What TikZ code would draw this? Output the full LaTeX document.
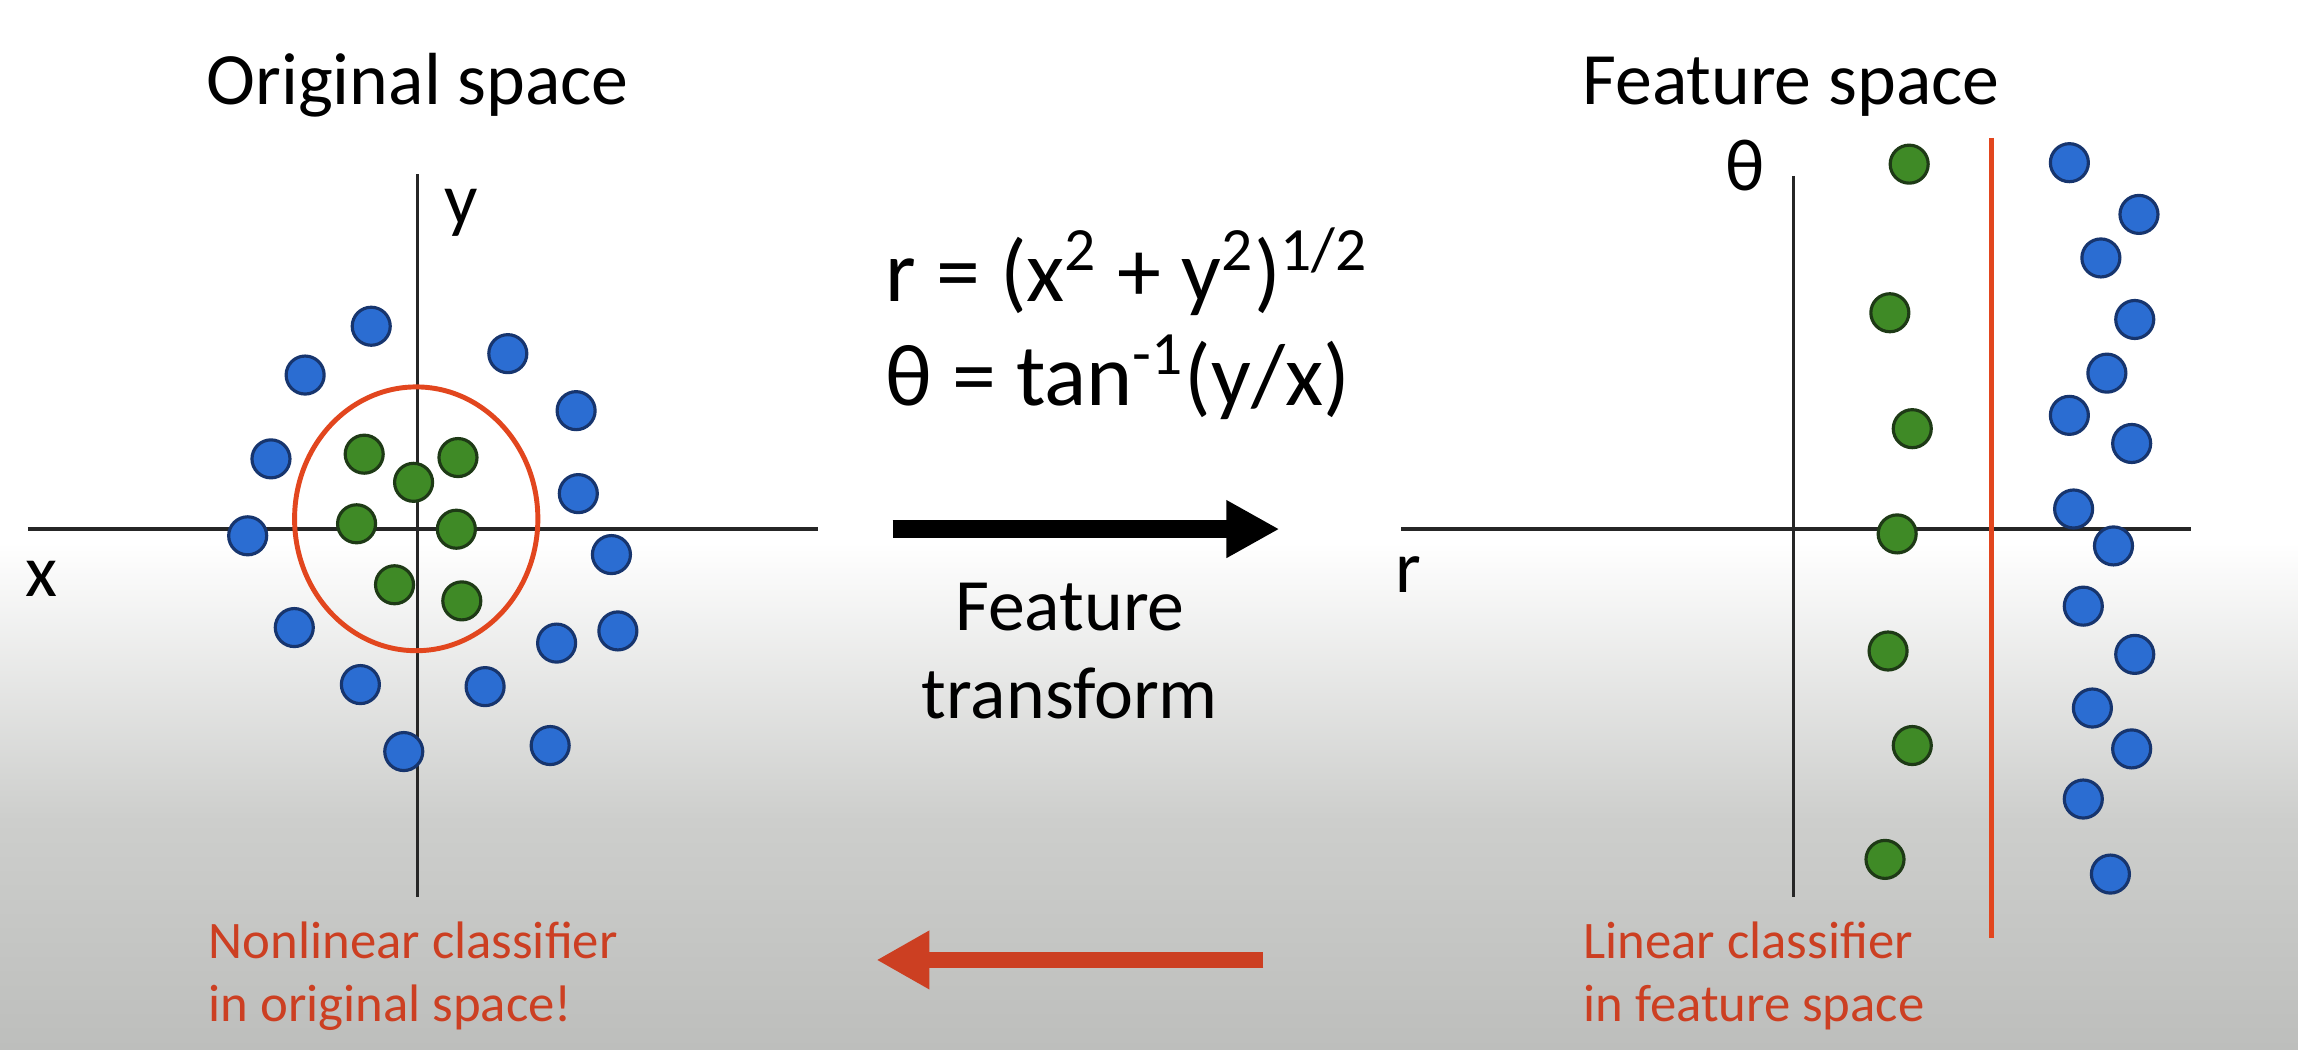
\documentclass[tikz,border=0pt]{standalone}
\usepackage{fontspec}
\setmainfont{Carlito}
\usetikzlibrary{arrows.meta}
\definecolor{DotBlue}{HTML}{2B6DD2}
\definecolor{BlueRim}{HTML}{17356E}
\definecolor{DotGreen}{HTML}{3F8A26}
\definecolor{GreenRim}{HTML}{1E3A16}
\definecolor{SplitRed}{HTML}{E2461E}
\definecolor{NoteRed}{HTML}{CC3F22}
\definecolor{BackGray}{HTML}{BDBEBC}
\definecolor{MidGray}{HTML}{CDCECC}

\begin{document}
\begin{tikzpicture}[x=0.014656cm,y=-0.014656cm,
  dot/.style={circle,minimum size=3.8mm,inner sep=0pt,line width=0.9pt},
  bluedot/.style={dot,draw=BlueRim,fill=DotBlue},
  greendot/.style={dot,draw=GreenRim,fill=DotGreen},
  axis/.style={line width=0.9pt,black!85},
  splitter/.style={line width=1.4pt,SplitRed},
  title/.style={font=\fontsize{21}{25}\selectfont,anchor=base,inner sep=0pt},
  axislabel/.style={font=\fontsize{21}{25}\selectfont,anchor=base west,inner sep=0pt},
  formula/.style={font=\fontsize{25}{30}\selectfont,anchor=base west,inner sep=0pt},
  caption/.style={font=\fontsize{21}{24.8}\selectfont,align=center,anchor=base,inner sep=0pt},
  note/.style={font=\fontsize{15}{18}\selectfont,text=NoteRed,align=left,anchor=base west,inner sep=0pt}]
\useasboundingbox (0,0) rectangle (1568,716);
\fill[white] (0,0) rectangle (1568,716);
\shade[top color=white,bottom color=MidGray] (0,370) rectangle (1568,560);
\shade[top color=MidGray,bottom color=BackGray] (0,560) rectangle (1568,716);

% original space
\node[title] (otitle) at (285,71) {Original space};
\coordinate (oxl) at (19,361);
\coordinate (oxr) at (558,361);
\coordinate (oyt) at (285,119);
\coordinate (oyb) at (285,612);
\draw[axis] (oxl) -- (oxr);
\draw[axis] (oyt) -- (oyb);
\node[axislabel] (xlab) at (17,407) {x};
\node[axislabel] (ylab) at (303,153) {y};
\draw[splitter] (284,354) ellipse [x radius=83, y radius=90];
\foreach \x/\y [count=\i] in {248.5/309.9,312.5/312.2,282.2/329.1,243.3/357.4,
    311.4/361.1,269.2/399,315.1/410}
  \node[greendot] (og\i) at (\x,\y) {};
\foreach \x/\y [count=\i] in {253.3/222.6,208.2/255.9,346.5/241.3,393.1/280.2,
    184.9/313.1,394.6/336.8,169/365.6,417.2/378.4,200.8/428.2,379.8/438.8,
    421.6/430.5,245.9/467.1,331/468.5,275.5/512.8,375.4/508.7}
  \node[bluedot] (ob\i) at (\x,\y) {};
\node[note] (onote) at (142,697) {Nonlinear classifier\\in original space!};

% transform
\node[formula] (rdef) at (604,206) {r = (x\textsuperscript{2} + y\textsuperscript{2})\textsuperscript{1/2}};
\node[formula] (tdef) at (604,277) {θ = tan\textsuperscript{-1}(y/x)};
\coordinate (ftail) at (609,361);
\coordinate (fhead) at (873,361);
\draw[line width=1.75mm,-{Triangle[length=5.3mm,width=5.4mm]}] (ftail) -- (fhead);
\node[caption] (fcap) at (730,490) {Feature\\transform};
\coordinate (btail) at (862,655);
\coordinate (bhead) at (598,655);
\draw[line width=1.6mm,NoteRed,-{Triangle[length=5.3mm,width=5.5mm]}] (btail) -- (bhead);

% feature space
\node[title] (ftitle) at (1222,71) {Feature space};
\coordinate (frl) at (956,361);
\coordinate (frr) at (1495,361);
\coordinate (ftt) at (1223.5,120);
\coordinate (ftb) at (1223.5,612);
\draw[axis] (frl) -- (frr);
\draw[axis] (ftt) -- (ftb);
\node[axislabel] (rlab) at (952,404) {r};
\node[axislabel] (tlab) at (1177,130) {θ};
\coordinate (stop) at (1359,94);
\coordinate (sbot) at (1359,640);
\draw[splitter] (stop) -- (sbot);
\foreach \x/\y [count=\i] in {1302.7/112,1289.5/213.4,1304.8/292.5,1294.5/364.3,
    1288.3/444.2,1304.8/508.7,1286.2/586.4}
  \node[greendot] (fg\i) at (\x,\y) {};
\foreach \x/\y [count=\i] in {1412/111,1459.5/146.3,1433.5/176,1456.6/218,
    1437.6/254.6,1412/283.4,1454.5/302.6,1414.9/347.3,1442.1/372.5,1421.5/413.6,
    1456.6/446.5,1427.7/483.1,1454.5/511,1421.5/545.2,1440/596.4}
  \node[bluedot] (fb\i) at (\x,\y) {};
\node[note] (fnote) at (1080,697) {Linear classifier\\in feature space};
\end{tikzpicture}
\end{document}
